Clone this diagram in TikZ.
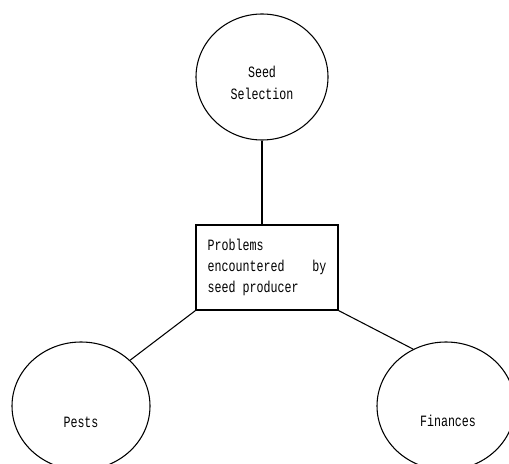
\documentclass[tikz,border=0pt]{standalone}
\usepackage{fontspec}
\setmonofont{Liberation Mono}[FakeStretch=0.74]
\usetikzlibrary{shapes.geometric}
\begin{document}
\begin{tikzpicture}[x=0.75pt,y=-0.75pt,
  every node/.style={font=\ttfamily\fontsize{11.8}{16}\selectfont},
  line/.style={draw=black,line width=0.8pt},
  bubble/.style={ellipse,draw=black,line width=0.8pt,inner sep=0pt},
  probbox/.style={rectangle,draw=black,line width=0.8pt,minimum width=106.5pt,minimum height=63.75pt,text width=89pt,inner sep=0pt,align=left},
  lbl/.style={align=center,inner sep=0pt}]
\useasboundingbox (0,0) rectangle (509,463);
\node[bubble,minimum width=99pt,minimum height=94.5pt] (seed) at (262,77) {};
\node[lbl] (seedtxt) at (262,83) {Seed\\Selection};
\node[probbox] (prob) at (267,267.5) {Problems\\encountered\hfill by\\seed\phantom{x}producer};
\node[bubble,minimum width=103.5pt,minimum height=96pt] (pests) at (81,406) {};
\node[lbl] (peststxt) at (81,422) {Pests};
\node[bubble,minimum width=103.5pt,minimum height=96pt] (fin) at (446,406) {};
\node[lbl] (fintxt) at (448,421) {Finances};
\draw[line] (seed.south) -- (seed.south |- prob.north);
\draw[line] (prob.south west) -- (pests.43);
\draw[line] (prob.south east) -- (fin.120);
\end{tikzpicture}
\end{document}
